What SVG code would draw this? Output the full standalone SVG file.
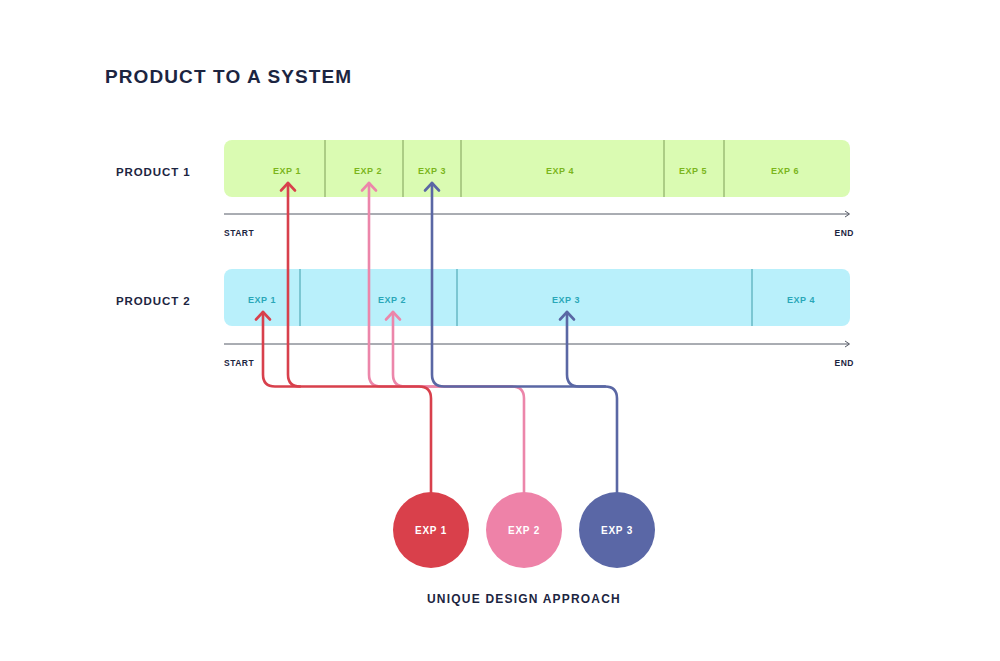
<svg xmlns="http://www.w3.org/2000/svg" width="1000" height="661" viewBox="0 0 1000 661">
<defs>
<style>
.t{font-family:"Liberation Sans",Arial,sans-serif;font-weight:bold;fill:#1c2541}
.title{font-size:19px;letter-spacing:1.1px}
.plabel{font-size:11.5px;letter-spacing:0.9px}
.se{font-size:8.5px;letter-spacing:0.5px}
.g{font-family:"Liberation Sans",Arial,sans-serif;font-weight:bold;font-size:9px;fill:#7bb51c;text-anchor:middle;letter-spacing:0.5px}
.b{font-family:"Liberation Sans",Arial,sans-serif;font-weight:bold;font-size:9px;fill:#2aa7b8;text-anchor:middle;letter-spacing:0.5px}
.w{font-family:"Liberation Sans",Arial,sans-serif;font-weight:bold;font-size:10px;fill:#ffffff;text-anchor:middle;letter-spacing:0.8px}
.gdiv{stroke:#7f9e58;stroke-width:1}
.bdiv{stroke:#3e9daa;stroke-width:1}
.axis{stroke:#555a66;stroke-width:1;fill:none}
.c{fill:none;stroke-width:2.6;stroke-linecap:round;stroke-linejoin:round}
.red{stroke:#d8404c}
.pink{stroke:#ec86aa}
.blue{stroke:#5a67a4}
</style>
</defs>
<rect width="1000" height="661" fill="#ffffff"/>
<text class="t title" x="105" y="83">PRODUCT TO A SYSTEM</text>

<g id="product1">
<text class="t plabel" x="116" y="176">PRODUCT 1</text>
<rect x="224" y="140" width="626" height="57" rx="8" fill="#dafbb2"/>
<line class="gdiv" x1="325" y1="140" x2="325" y2="197"/>
<line class="gdiv" x1="403" y1="140" x2="403" y2="197"/>
<line class="gdiv" x1="461" y1="140" x2="461" y2="197"/>
<line class="gdiv" x1="664" y1="140" x2="664" y2="197"/>
<line class="gdiv" x1="724" y1="140" x2="724" y2="197"/>
<text class="g" x="287" y="174">EXP 1</text>
<text class="g" x="368" y="174">EXP 2</text>
<text class="g" x="432" y="174">EXP 3</text>
<text class="g" x="560" y="174">EXP 4</text>
<text class="g" x="693" y="174">EXP 5</text>
<text class="g" x="785" y="174">EXP 6</text>
<line class="axis" x1="224" y1="214" x2="849" y2="214"/>
<path class="axis" d="M845 211 L849.5 214 L845 217"/>
<text class="t se" x="224" y="236">START</text>
<text class="t se" x="854" y="236" text-anchor="end">END</text>
</g>

<g id="product2">
<text class="t plabel" x="116" y="305">PRODUCT 2</text>
<rect x="224" y="269" width="626" height="57" rx="8" fill="#b9f0fb"/>
<line class="bdiv" x1="300" y1="269" x2="300" y2="326"/>
<line class="bdiv" x1="457" y1="269" x2="457" y2="326"/>
<line class="bdiv" x1="752" y1="269" x2="752" y2="326"/>
<text class="b" x="262" y="303">EXP 1</text>
<text class="b" x="392" y="303">EXP 2</text>
<text class="b" x="566" y="303">EXP 3</text>
<text class="b" x="801" y="303">EXP 4</text>
<line class="axis" x1="224" y1="344" x2="849" y2="344"/>
<path class="axis" d="M845 341 L849.5 344 L845 347"/>
<text class="t se" x="224" y="366">START</text>
<text class="t se" x="854" y="366" text-anchor="end">END</text>
</g>

<g id="connectors">
<path class="c pink" d="M369 183 V374.5 Q369 386.5 381 386.5 H512 Q524 386.5 524 398.5 V492"/>
<path class="c pink" d="M393 312 V374.5 Q393 386.5 405 386.5 H512"/>
<path class="c pink" d="M362 190.5 L369 183 L376 190.5"/>
<path class="c pink" d="M386 319.5 L393 312 L400 319.5"/>
<path class="c red" d="M263 312 V374.5 Q263 386.5 275 386.5 H419 Q431 386.5 431 398.5 V492"/>
<path class="c red" d="M288 183 V374.5 Q288 386.5 300 386.5"/>
<path class="c red" d="M281 190.5 L288 183 L295 190.5"/>
<path class="c red" d="M256 319.5 L263 312 L270 319.5"/>
<path class="c blue" d="M432 183 V374.5 Q432 386.5 444 386.5 H605 Q617 386.5 617 398.5 V492"/>
<path class="c blue" d="M567 312 V374.5 Q567 386.5 579 386.5 H605"/>
<path class="c blue" d="M425 190.5 L432 183 L439 190.5"/>
<path class="c blue" d="M560 319.5 L567 312 L574 319.5"/>
</g>

<g id="exp1">
<circle cx="431" cy="530" r="38" fill="#d9404b"/>
<text class="w" x="431" y="534">EXP 1</text>
</g>
<g id="exp2">
<circle cx="524" cy="530" r="38" fill="#ee82a8"/>
<text class="w" x="524" y="534">EXP 2</text>
</g>
<g id="exp3">
<circle cx="617" cy="530" r="38" fill="#5a67a6"/>
<text class="w" x="617" y="534">EXP 3</text>
</g>
<text class="t" x="524" y="603" text-anchor="middle" style="font-size:12px;letter-spacing:1.2px">UNIQUE DESIGN APPROACH</text>
</svg>
